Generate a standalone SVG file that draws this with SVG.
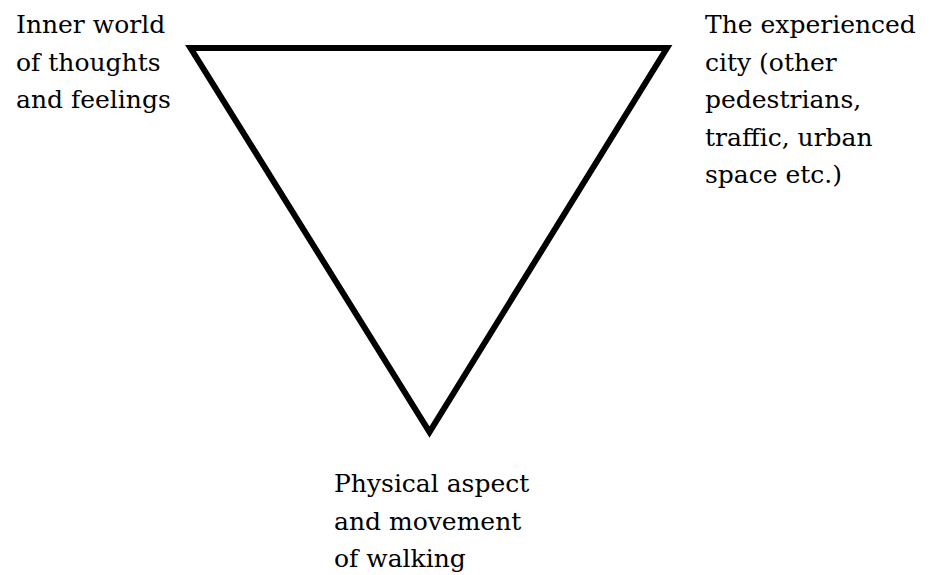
<svg xmlns="http://www.w3.org/2000/svg" width="929" height="575" viewBox="0 0 929 575">
<style>
text{font-family:'DejaVu Serif','Noto Serif','Liberation Serif','Times New Roman',serif;font-size:25px;fill:#000}
.tri{fill:none;stroke:#000;stroke-width:6;stroke-linejoin:miter;stroke-miterlimit:10}
</style>
<rect width="929" height="575" fill="#fff"/>
<g id="connectors">
<polygon class="tri" points="190.5,48 667,48 429.5,432"/>
</g>
<g id="node-inner">
<text x="16" y="33">Inner world</text>
<text x="16" y="70.5">of thoughts</text>
<text x="16" y="108">and feelings</text>
</g>
<g id="node-city">
<text x="705" y="33">The experienced</text>
<text x="705" y="70.5">city (other</text>
<text x="705" y="108">pedestrians,</text>
<text x="705" y="145.5">traffic, urban</text>
<text x="705" y="183">space etc.)</text>
</g>
<g id="node-physical">
<text x="334" y="492">Physical aspect</text>
<text x="334" y="529.5">and movement</text>
<text x="334" y="567">of walking</text>
</g>
</svg>
